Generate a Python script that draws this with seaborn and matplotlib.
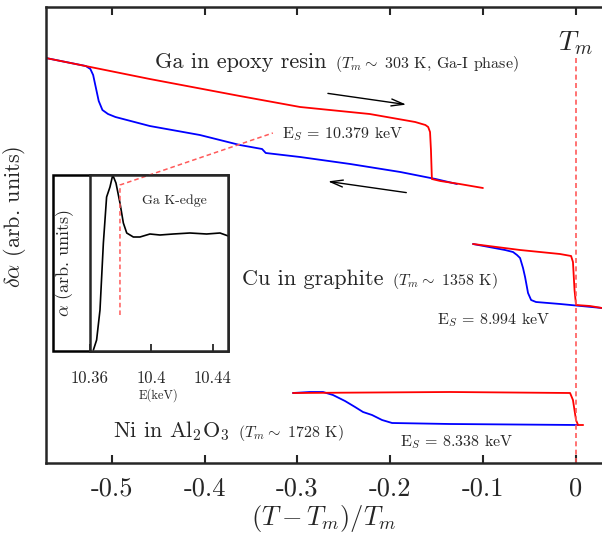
import numpy as np
import seaborn as sns
import matplotlib.pyplot as plt
from matplotlib.patches import Rectangle

sns.set_style("ticks")
plt.rcParams['font.family'] = 'serif'
plt.rcParams['font.serif'] = ['cmr10', 'DejaVu Serif']
plt.rcParams['mathtext.fontset'] = 'cm'
plt.rcParams['axes.unicode_minus'] = False
plt.rcParams['axes.formatter.use_mathtext'] = False

# Ga in epoxy resin: heating (red) / cooling (blue)
ga_heat_x = [-0.571, -0.523, -0.459, -0.362, -0.297, -0.222, -0.173, -0.162, -0.159,
             -0.157, -0.156, -0.155, -0.146, -0.125, -0.100]
ga_heat_y = [405, 396, 384, 367, 356, 349, 341, 338, 336, 331, 313, 284, 282, 279, 275]
ga_cool_x = [-0.571, -0.528, -0.523, -0.520, -0.517, -0.514, -0.510, -0.504, -0.496,
             -0.459, -0.405, -0.362, -0.338, -0.334, -0.297, -0.243, -0.189, -0.151, -0.128]
ga_cool_y = [405, 397, 394, 388, 375, 362, 353, 349, 346, 337, 328, 318, 314, 310,
             306, 299, 291, 284, 279]

# Cu in graphite
cu_heat_x = [-0.1107, -0.060, -0.017, -0.005, -0.003, -0.0013, 0.0003, 0.0154, 0.0283]
cu_heat_y = [219, 213, 209, 207, 201, 173, 158, 157, 155]
cu_cool_x = [-0.1107, -0.0762, -0.0676, -0.0633, -0.060, -0.0568, -0.0546, -0.0514,
             -0.0481, -0.0428, -0.0168, 0.0283]
cu_cool_y = [219, 213, 211, 208, 205, 195, 186, 170, 163, 161, 159, 155]

# Ni in Al2O3
ni_heat_x = [-0.3047, -0.1354, -0.0061, -0.003, 0.0003, 0.0025, 0.008]
ni_heat_y = [70, 71, 70, 63, 43, 38, 38]
ni_cool_x = [-0.3047, -0.2864, -0.2723, -0.2616, -0.2486, -0.2378, -0.2292, -0.2195,
             -0.2087, -0.1979, -0.1354, 0.0025]
ni_cool_y = [70, 71, 71, 68, 62, 56, 51, 48, 43, 40, 39, 38]

# inset: Ga K-edge absorption
edge_e = [10.3622, 10.3643, 10.3665, 10.3687, 10.3708, 10.3730, 10.3748, 10.3769,
          10.3795, 10.3817, 10.3839, 10.3882, 10.3925, 10.3990, 10.4055, 10.4142,
          10.4250, 10.4359, 10.4446, 10.4500]
edge_mu = [1, 11, 41, 108, 154, 164, 176, 168, 148, 128, 118, 114, 114, 117, 116,
           117, 118, 117, 118, 115]
e_sel = 10.3795

xticks = [-0.5, -0.4, -0.3, -0.2, -0.1, 0]
xtick_labels = ['-0.5', '-0.4', '-0.3', '-0.2', '-0.1', '0']
inset_ticks = [10.36, 10.4, 10.44]
inset_labels = ['10.36', '10.4', '10.44']

red = '#ff0000'
blue = '#0000ff'
pale_red = '#ff5a5a'

fig = plt.figure(figsize=(6.02, 5.37), dpi=100)
ax = fig.add_axes([46 / 602, 74 / 537, 1 - 46 / 602, 456 / 537])

for hx, hy, cx, cy in [(ga_heat_x, ga_heat_y, ga_cool_x, ga_cool_y),
                       (cu_heat_x, cu_heat_y, cu_cool_x, cu_cool_y),
                       (ni_heat_x, ni_heat_y, ni_cool_x, ni_cool_y)]:
    sns.lineplot(x=cx, y=cy, ax=ax, color=blue, lw=1.3, sort=False, estimator=None)
    sns.lineplot(x=hx, y=hy, ax=ax, color=red, lw=1.3, sort=False, estimator=None)

ax.set_xlim(-0.5708, 0.0283)
ax.set_ylim(0, 456)
ax.axvline(0, ymax=408 / 456, color=pale_red, lw=1.2, ls=(0, (3, 2)))

ax.set_xticks(xticks)
ax.set_xticklabels(xtick_labels)
ax.set_yticks([])
ax.tick_params(axis='x', direction='in', top=True, length=6, width=1.5,
               labelsize=19, pad=10)
for s in ['left', 'top', 'bottom']:
    ax.spines[s].set_linewidth(1.8)
ax.spines['right'].set_visible(False)
ax.set_xlabel(r'$(T-T_m)/T_m$', fontsize=19, labelpad=2)
ax.set_ylabel(r'$\delta\alpha$ (arb. units)', fontsize=16)
ax.yaxis.set_label_coords(-0.032, 0.54)

# annotations
ax.text(0, 413, r'$T_m$', fontsize=20, ha='center', va='baseline')
ax.text(-0.453, 395, 'Ga in epoxy resin', fontsize=16, va='baseline')
ax.text(-0.259, 395, r'($T_m\sim$ 303 K, Ga-I phase)', fontsize=11.5, va='baseline')
ax.text(-0.3166, 325, r'E$_S$ = 10.379 keV', fontsize=11.5, va='baseline')
ax.text(-0.3596, 178, 'Cu in graphite', fontsize=16, va='baseline')
ax.text(-0.198, 178, r'($T_m\sim$ 1358 K)', fontsize=11.5, va='baseline')
ax.text(-0.1495, 139, r'E$_S$ = 8.994 keV', fontsize=11.5, va='baseline')
ax.text(-0.4985, 26, r'Ni in Al$_2$O$_3$', fontsize=16, va='baseline')
ax.text(-0.3640, 26, r'($T_m\sim$ 1728 K)', fontsize=11.5, va='baseline')
ax.text(-0.1894, 17, r'E$_S$ = 8.338 keV', fontsize=11.5, va='baseline')

arrow = dict(arrowstyle='->,head_length=0.9,head_width=0.25', lw=1.0, color='black')
ax.annotate('', xy=(-0.1796, 358), xytext=(-0.270, 370), arrowprops=arrow)
ax.annotate('', xy=(-0.270, 282), xytext=(-0.1796, 270), arrowprops=arrow)

# inset frame (includes the y label area)
box = Rectangle((53 / 602, 186 / 537), 175 / 602, 176 / 537, transform=fig.transFigure,
                facecolor='white', edgecolor='black', lw=1.8, zorder=1.5)
fig.add_artist(box)

axin = fig.add_axes([90 / 602, 186 / 537, 138 / 602, 176 / 537])
axin.set_zorder(2)
sns.lineplot(x=edge_e, y=edge_mu, ax=axin, color='black', lw=1.2, sort=False,
             estimator=None)
axin.plot([e_sel, e_sel, 10.479], [36, 166, 218], color=pale_red, lw=1.1,
          ls=(0, (3, 2)), clip_on=False)
axin.set_xlim(10.36, 10.4498)
axin.set_ylim(0, 176)
axin.set_xticks(inset_ticks)
axin.set_xticklabels(inset_labels)
axin.set_yticks([])
axin.tick_params(axis='x', direction='in', length=5, width=1.3, labelsize=12, pad=14)
for s in axin.spines.values():
    s.set_linewidth(1.8)
axin.set_xlabel('E(keV)', fontsize=9, labelpad=2)
axin.set_ylabel(r'$\alpha$ (arb. units)', fontsize=13)
axin.yaxis.set_label_coords(-0.10, 0.5)
axin.text(10.4150, 150, 'Ga K-edge', fontsize=10, ha='center', va='center')

fig.savefig('out.png', dpi=100)
